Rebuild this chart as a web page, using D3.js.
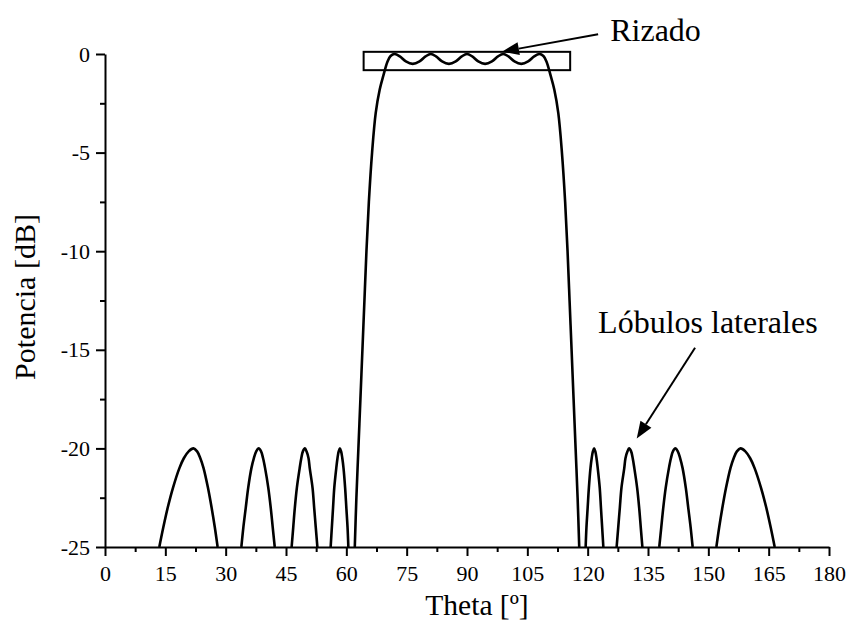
<!DOCTYPE html>
<html>
<head>
<meta charset="utf-8">
<script src="https://cdn.jsdelivr.net/npm/d3@7"></script>
<style>
  html, body { margin: 0; padding: 0; background: #fff; }
  svg { display: block; }
</style>
</head>
<body>
<svg id="chart" width="848" height="624"></svg>
<script>
// ---- data ----
const xTicks = [0, 15, 30, 45, 60, 75, 90, 105, 120, 135, 150, 165, 180];
const xMinorTicks = [7.5, 22.5, 37.5, 52.5, 67.5, 82.5, 97.5, 112.5, 127.5, 142.5, 157.5, 172.5];
const yTicks = [0, -5, -10, -15, -20, -25];
const yMinorTicks = [-2.5, -7.5, -12.5, -17.5, -22.5];

// main lobe (theta in degrees, power in dB)
const mainTheta = [62.1, 62.5, 63.0, 63.5, 64.0, 64.5, 65.0, 65.6, 66.4, 67.3, 68.3, 69.2, 70.2, 71.0, 72.0,
  73.3, 74.8, 76.5, 78.2, 79.7, 81.0,
  82.3, 83.8, 85.5, 87.2, 88.7, 90.0,
  91.3, 92.8, 94.5, 96.2, 97.7, 99.0,
  100.3, 101.8, 103.5, 105.2, 106.7, 108.0,
  109.0, 109.8, 110.8, 111.7, 112.7, 113.6, 114.4, 115.0, 115.5, 116.0, 116.5, 117.0, 117.5, 117.9];
const mainDb = [-25, -22.5, -20, -17.5, -15, -12.5, -10, -7.5, -5, -3, -1.8, -1.1, -0.4, -0.1, 0,
  -0.12, -0.38, -0.5, -0.38, -0.12, 0,
  -0.12, -0.38, -0.5, -0.38, -0.12, 0,
  -0.12, -0.38, -0.5, -0.38, -0.12, 0,
  -0.12, -0.38, -0.5, -0.38, -0.12, 0,
  -0.1, -0.4, -1.1, -1.8, -3, -5, -7.5, -10, -12.5, -15, -17.5, -20, -22.5, -25];

// side lobes: each lobe's theta values, sampled at the shared dB levels
const lobeDb = [-25, -24, -23, -22, -21, -20.5, -20.15, -20, -20.15, -20.5, -21, -22, -23, -24, -25];
const lobe1 = [13.5, 14.5, 15.6, 16.9, 18.5, 19.6, 20.8, 22.0, 22.9, 23.7, 24.5, 25.6, 26.5, 27.3, 28.0];
const lobe2 = [33.9, 34.4, 35.0, 35.6, 36.4, 37.0, 37.6, 38.2, 38.8, 39.3, 39.8, 40.6, 41.2, 41.7, 42.2];
const lobe3 = [46.4, 46.8, 47.2, 47.7, 48.4, 48.8, 49.2, 49.7, 50.1, 50.6, 50.9, 51.6, 52.0, 52.4, 52.8];
const lobe4 = [56.1, 56.4, 56.7, 57.0, 57.5, 57.8, 58.1, 58.4, 58.7, 59.0, 59.3, 59.7, 60.0, 60.3, 60.5];
const lobe5 = [119.5, 119.7, 120.0, 120.3, 120.7, 121.0, 121.3, 121.6, 121.9, 122.2, 122.5, 123.0, 123.3, 123.6, 123.9];
const lobe6 = [127.2, 127.6, 128.0, 128.4, 129.1, 129.4, 129.9, 130.3, 130.8, 131.2, 131.6, 132.3, 132.8, 133.2, 133.6];
const lobe7 = [137.8, 138.3, 138.8, 139.4, 140.2, 140.7, 141.2, 141.8, 142.4, 143.0, 143.6, 144.4, 145.0, 145.6, 146.1];
const lobe8 = [152.0, 152.7, 153.5, 154.4, 155.5, 156.3, 157.1, 158.0, 159.2, 160.4, 161.5, 163.1, 164.4, 165.5, 166.5];

// annotations (data coordinates)
const rippleBox = { theta0: 64.3, theta1: 115.65, db0: 0.11, db1: -0.82 };
const rippleArrow = { from: [122.6, 1.0], to: [98.7, 0.12] };
const rippleLabel = { text: "Rizado", theta: 125.6, db: 0.66 };
const lobeArrow = { from: [146.7, -14.9], to: [132.2, -19.5] };
const lobeLabel = { text: "Lóbulos laterales", theta: 122.6, db: -14.15 };

const xTitle = "Theta [º]";
const yTitle = "Potencia [dB]";

// ---- drawing ----
const FONT = '"Liberation Serif", Tinos, "Times New Roman", Times, "Nimbus Roman", "DejaVu Serif", serif';
const svg = d3.select("#chart").attr("font-family", FONT);
const x = d3.scaleLinear().domain([0, 180]).range([105, 829]);
const y = d3.scaleLinear().domain([0, -25]).range([54, 547]);

const line = d3.line()
  .x(d => x(d[0]))
  .y(d => y(d[1]))
  .curve(d3.curveCatmullRom.alpha(0.5));

const series = [d3.zip(mainTheta, mainDb)];
[lobe1, lobe2, lobe3, lobe4, lobe5, lobe6, lobe7, lobe8].forEach(l => series.push(d3.zip(l, lobeDb)));

svg.append("g").selectAll("path").data(series).join("path")
  .attr("d", line)
  .attr("fill", "none")
  .attr("stroke", "#000")
  .attr("stroke-width", 2.6)
  .attr("stroke-linejoin", "round");

// axes
const fmt = d => String(d);
function styleAxis(g) {
  g.attr("font-family", FONT).attr("font-size", 22);
  g.selectAll(".domain").attr("stroke", "#000").attr("stroke-width", 2);
  g.selectAll(".tick line").attr("stroke", "#000").attr("stroke-width", 2);
  g.selectAll(".tick text").attr("fill", "#000").attr("font-family", FONT).attr("font-size", 22);
}

const gx = svg.append("g").attr("transform", `translate(0,${y(-25)})`)
  .call(d3.axisBottom(x).tickValues(xTicks).tickSize(9).tickSizeOuter(0).tickPadding(9).tickFormat(fmt));
styleAxis(gx);
const gxm = svg.append("g").attr("transform", `translate(0,${y(-25)})`)
  .call(d3.axisBottom(x).tickValues(xMinorTicks).tickSize(5).tickFormat(""));
gxm.select(".domain").remove();
styleAxis(gxm);

const gy = svg.append("g").attr("transform", `translate(${x(0)},0)`)
  .call(d3.axisLeft(y).tickValues(yTicks).tickSize(9).tickSizeOuter(0).tickPadding(6).tickFormat(fmt));
styleAxis(gy);
const gym = svg.append("g").attr("transform", `translate(${x(0)},0)`)
  .call(d3.axisLeft(y).tickValues(yMinorTicks).tickSize(5).tickFormat(""));
gym.select(".domain").remove();
styleAxis(gym);

// titles
svg.append("text")
  .attr("x", 477).attr("y", 615)
  .attr("text-anchor", "middle")
  .attr("font-family", FONT).attr("font-size", 29.5)
  .text(xTitle);
svg.append("text")
  .attr("transform", "translate(35,297) rotate(-90)")
  .attr("text-anchor", "middle")
  .attr("font-family", FONT).attr("font-size", 30)
  .text(yTitle);

// ripple box
svg.append("rect")
  .attr("x", x(rippleBox.theta0))
  .attr("y", y(rippleBox.db0))
  .attr("width", x(rippleBox.theta1) - x(rippleBox.theta0))
  .attr("height", y(rippleBox.db1) - y(rippleBox.db0))
  .attr("fill", "none")
  .attr("stroke", "#000")
  .attr("stroke-width", 2);

function arrow(a) {
  const x1 = x(a.from[0]), y1 = y(a.from[1]);
  const x2 = x(a.to[0]), y2 = y(a.to[1]);
  const ang = Math.atan2(y2 - y1, x2 - x1);
  const len = 17, hw = 6.5;
  const bx = x2 - len * Math.cos(ang), by = y2 - len * Math.sin(ang);
  svg.append("line")
    .attr("x1", x1).attr("y1", y1).attr("x2", bx).attr("y2", by)
    .attr("stroke", "#000").attr("stroke-width", 2);
  const p1 = [bx + hw * Math.sin(ang), by - hw * Math.cos(ang)];
  const p2 = [bx - hw * Math.sin(ang), by + hw * Math.cos(ang)];
  svg.append("path")
    .attr("d", `M${x2},${y2}L${p1[0]},${p1[1]}L${p2[0]},${p2[1]}Z`)
    .attr("fill", "#000");
}
arrow(rippleArrow);
arrow(lobeArrow);

[rippleLabel, lobeLabel].forEach(l => {
  svg.append("text")
    .attr("x", x(l.theta)).attr("y", y(l.db))
    .attr("font-family", FONT).attr("font-size", 32)
    .text(l.text);
});
</script>
</body>
</html>
